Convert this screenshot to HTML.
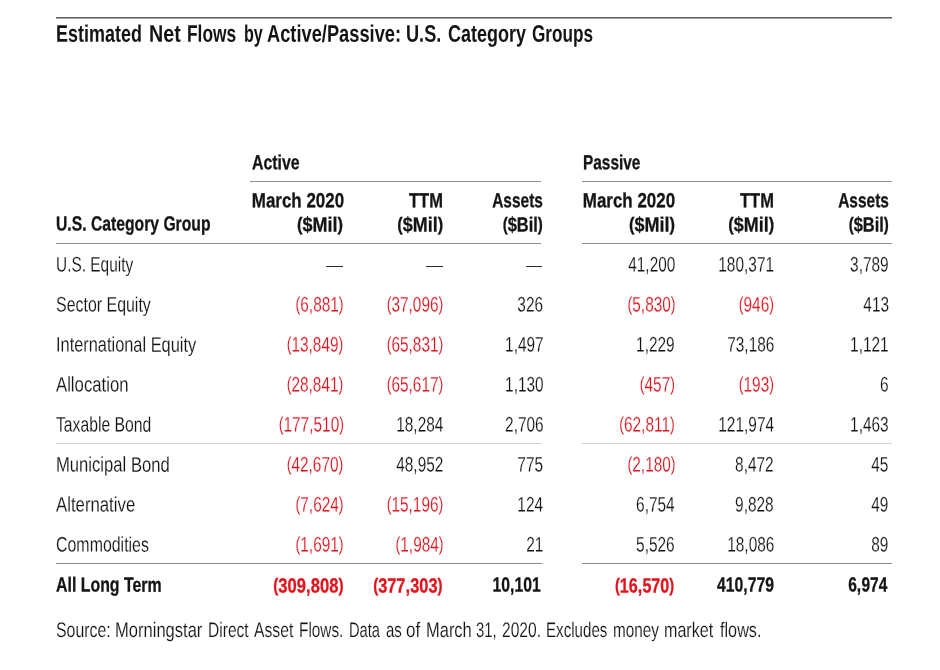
<!DOCTYPE html>
<html lang="en">
<head>
<meta charset="utf-8">
<title>Estimated Net Flows by Active/Passive: U.S. Category Groups</title>
<style>
html,body{margin:0;padding:0;background:#fff;}
body{width:940px;height:670px;position:relative;overflow:hidden;font-family:"Liberation Sans",sans-serif;}
#page{position:absolute;left:0;top:0;width:940px;height:670px;will-change:transform;text-rendering:geometricPrecision;}
.t{position:absolute;white-space:nowrap;font-size:21px;line-height:25px;height:25px;margin:0;padding:0;}
.l{transform-origin:0 50%;}
.r{transform-origin:100% 50%;}
.b{font-weight:bold;font-size:20.4px;-webkit-text-stroke:0.3px currentColor;}
.n{-webkit-text-stroke:0.15px #fff;}
.b.h{font-size:24px;line-height:29px;height:29px;-webkit-text-stroke:0;}
.ln{position:absolute;}
.d{font-size:0;line-height:0;overflow:hidden;color:transparent;}
.p{font-size:19.4px;position:relative;top:-0.75px;}
.b .p{font-size:18.7px;top:-1px;}
.c{letter-spacing:0.1px;}
.b .c{letter-spacing:0.3px;}
</style>
</head>
<body>
<div id="page">
<div class="ln" style="left:56.0px;top:17px;width:835.8px;height:1px;background:#5f5f5f"></div>
<div class="ln" style="left:56.0px;top:18px;width:835.8px;height:1px;background:#a6a6a6"></div>
<div class="ln" style="left:250.4px;top:181px;width:290.4px;height:1px;background:#909090"></div>
<div class="ln" style="left:581.7px;top:181px;width:309.9px;height:1px;background:#909090"></div>
<div class="ln" style="left:56.0px;top:243px;width:484.8px;height:1px;background:#909090"></div>
<div class="ln" style="left:581.7px;top:243px;width:309.9px;height:1px;background:#909090"></div>
<div class="ln" style="left:56.0px;top:443px;width:484.8px;height:1px;background:#cfcfcf"></div>
<div class="ln" style="left:581.7px;top:443px;width:309.9px;height:1px;background:#cfcfcf"></div>
<div class="ln" style="left:56.0px;top:563px;width:484.8px;height:1px;background:#8a8a8a"></div>
<div class="ln" style="left:541.0px;top:563px;width:2.0px;height:1px;background:#b4b4b4"></div>
<div class="ln" style="left:581.7px;top:563px;width:309.9px;height:1px;background:#8a8a8a"></div>
<div class="ln d" style="left:326.3px;top:266px;width:16.7px;height:1px;background:#2b2b2b">&mdash;</div>
<div class="ln d" style="left:426.0px;top:266px;width:16.7px;height:1px;background:#2b2b2b">&mdash;</div>
<div class="ln d" style="left:525.8px;top:266px;width:16.7px;height:1px;background:#2b2b2b">&mdash;</div>
<div class="t l b h" style="left:56.29px;top:19px;color:#141414;transform:matrix(0.7493,0.0008,0,1,0,0.65)">Estimated</div>
<div class="t l b h" style="left:148.59px;top:19px;color:#141414;transform:matrix(0.8201,0.0008,0,1,0,0.65)">Net</div>
<div class="t l b h" style="left:187.40px;top:19px;color:#141414;transform:matrix(0.7241,0.0008,0,1,0,0.65)">Flows</div>
<div class="t l b h" style="left:243.51px;top:19px;color:#141414;transform:matrix(0.6708,0.0008,0,1,0,0.65)">by</div>
<div class="t l b h" style="left:267.09px;top:19px;color:#141414;transform:matrix(0.7614,0.0008,0,1,0,0.65)">Active/Passive:</div>
<div class="t l b h" style="left:406.31px;top:19px;color:#141414;transform:matrix(0.7555,0.0008,0,1,0,0.65)">U.S.</div>
<div class="t l b h" style="left:447.77px;top:19px;color:#141414;transform:matrix(0.7496,0.0008,0,1,0,0.65)">Category</div>
<div class="t l b h" style="left:531.50px;top:19px;color:#141414;transform:matrix(0.7156,0.0008,0,1,0,0.65)">Groups</div>
<div class="t l b" style="left:252.00px;top:151px;color:#141414;transform:matrix(0.7791,0.0008,0,1,0,0.25)">Active</div>
<div class="t l b" style="left:583.00px;top:151px;color:#141414;transform:matrix(0.7548,0.0008,0,1,0,0.25)">Passive</div>
<div class="t l b" style="left:55.80px;top:212px;color:#141414;transform:matrix(0.7705,0.0008,0,1,0,0.45)">U.S. Category Group</div>
<div class="t r b" style="right:596.40px;top:189px;color:#141414;transform:matrix(0.8310,0.0008,0,1,0,0.30)">March 2020</div>
<div class="t r b" style="right:596.40px;top:212px;color:#141414;transform:matrix(0.8832,0.0008,0,1,0,0.45)"><span class="p">(</span>$Mil<span class="p">)</span></div>
<div class="t r b" style="right:497.00px;top:189px;color:#141414;transform:matrix(0.8098,0.0008,0,1,0,0.30)">TTM</div>
<div class="t r b" style="right:497.00px;top:212px;color:#141414;transform:matrix(0.8783,0.0008,0,1,0,0.45)"><span class="p">(</span>$Mil<span class="p">)</span></div>
<div class="t r b" style="right:396.90px;top:189px;color:#141414;transform:matrix(0.7585,0.0008,0,1,0,0.30)">Assets</div>
<div class="t r b" style="right:396.90px;top:212px;color:#141414;transform:matrix(0.8053,0.0008,0,1,0,0.45)"><span class="p">(</span>$Bil<span class="p">)</span></div>
<div class="t r b" style="right:265.20px;top:189px;color:#141414;transform:matrix(0.8310,0.0008,0,1,0,0.30)">March 2020</div>
<div class="t r b" style="right:265.20px;top:212px;color:#141414;transform:matrix(0.8832,0.0008,0,1,0,0.45)"><span class="p">(</span>$Mil<span class="p">)</span></div>
<div class="t r b" style="right:166.30px;top:189px;color:#141414;transform:matrix(0.8098,0.0008,0,1,0,0.30)">TTM</div>
<div class="t r b" style="right:166.30px;top:212px;color:#141414;transform:matrix(0.8783,0.0008,0,1,0,0.45)"><span class="p">(</span>$Mil<span class="p">)</span></div>
<div class="t r b" style="right:51.50px;top:189px;color:#141414;transform:matrix(0.7585,0.0008,0,1,0,0.30)">Assets</div>
<div class="t r b" style="right:51.50px;top:212px;color:#141414;transform:matrix(0.8053,0.0008,0,1,0,0.45)"><span class="p">(</span>$Bil<span class="p">)</span></div>
<div class="t l n" style="left:56.00px;top:252px;color:#141414;transform:matrix(0.7345,0.0008,0,1,0,0.55)">U.S. Equity</div>
<div class="t r n" style="right:264.90px;top:252px;color:#141414;transform:matrix(0.7330,0.0008,0,1,0,0.55)">41<span class="c">,</span>200</div>
<div class="t r n" style="right:166.00px;top:252px;color:#141414;transform:matrix(0.7330,0.0008,0,1,0,0.55)">180<span class="c">,</span>371</div>
<div class="t r n" style="right:51.20px;top:252px;color:#141414;transform:matrix(0.7330,0.0008,0,1,0,0.55)">3<span class="c">,</span>789</div>
<div class="t l n" style="left:56.00px;top:292px;color:#141414;transform:matrix(0.7590,0.0008,0,1,0,0.55)">Sector Equity</div>
<div class="t r n" style="right:596.30px;top:292px;color:#e2131c;transform:matrix(0.7330,0.0008,0,1,0,0.55)"><span class="p">(</span>6<span class="c">,</span>881<span class="p">)</span></div>
<div class="t r n" style="right:496.60px;top:292px;color:#e2131c;transform:matrix(0.7330,0.0008,0,1,0,0.55)"><span class="p">(</span>37<span class="c">,</span>096<span class="p">)</span></div>
<div class="t r n" style="right:396.80px;top:292px;color:#141414;transform:matrix(0.7330,0.0008,0,1,0,0.55)">326</div>
<div class="t r n" style="right:264.90px;top:292px;color:#e2131c;transform:matrix(0.7330,0.0008,0,1,0,0.55)"><span class="p">(</span>5<span class="c">,</span>830<span class="p">)</span></div>
<div class="t r n" style="right:166.00px;top:292px;color:#e2131c;transform:matrix(0.7330,0.0008,0,1,0,0.55)"><span class="p">(</span>946<span class="p">)</span></div>
<div class="t r n" style="right:51.20px;top:292px;color:#141414;transform:matrix(0.7330,0.0008,0,1,0,0.55)">413</div>
<div class="t l n" style="left:56.00px;top:332px;color:#141414;transform:matrix(0.7796,0.0008,0,1,0,0.55)">International Equity</div>
<div class="t r n" style="right:596.30px;top:332px;color:#e2131c;transform:matrix(0.7330,0.0008,0,1,0,0.55)"><span class="p">(</span>13<span class="c">,</span>849<span class="p">)</span></div>
<div class="t r n" style="right:496.60px;top:332px;color:#e2131c;transform:matrix(0.7330,0.0008,0,1,0,0.55)"><span class="p">(</span>65<span class="c">,</span>831<span class="p">)</span></div>
<div class="t r n" style="right:396.80px;top:332px;color:#141414;transform:matrix(0.7330,0.0008,0,1,0,0.55)">1<span class="c">,</span>497</div>
<div class="t r n" style="right:264.90px;top:332px;color:#141414;transform:matrix(0.7330,0.0008,0,1,0,0.55)">1<span class="c">,</span>229</div>
<div class="t r n" style="right:166.00px;top:332px;color:#141414;transform:matrix(0.7330,0.0008,0,1,0,0.55)">73<span class="c">,</span>186</div>
<div class="t r n" style="right:51.20px;top:332px;color:#141414;transform:matrix(0.7330,0.0008,0,1,0,0.55)">1<span class="c">,</span>121</div>
<div class="t l n" style="left:56.00px;top:372px;color:#141414;transform:matrix(0.7962,0.0008,0,1,0,0.55)">Allocation</div>
<div class="t r n" style="right:596.30px;top:372px;color:#e2131c;transform:matrix(0.7330,0.0008,0,1,0,0.55)"><span class="p">(</span>28<span class="c">,</span>841<span class="p">)</span></div>
<div class="t r n" style="right:496.60px;top:372px;color:#e2131c;transform:matrix(0.7330,0.0008,0,1,0,0.55)"><span class="p">(</span>65<span class="c">,</span>617<span class="p">)</span></div>
<div class="t r n" style="right:396.80px;top:372px;color:#141414;transform:matrix(0.7330,0.0008,0,1,0,0.55)">1<span class="c">,</span>130</div>
<div class="t r n" style="right:264.90px;top:372px;color:#e2131c;transform:matrix(0.7330,0.0008,0,1,0,0.55)"><span class="p">(</span>457<span class="p">)</span></div>
<div class="t r n" style="right:166.00px;top:372px;color:#e2131c;transform:matrix(0.7330,0.0008,0,1,0,0.55)"><span class="p">(</span>193<span class="p">)</span></div>
<div class="t r n" style="right:51.20px;top:372px;color:#141414;transform:matrix(0.7330,0.0008,0,1,0,0.55)">6</div>
<div class="t l n" style="left:56.00px;top:412px;color:#141414;transform:matrix(0.7493,0.0008,0,1,0,0.55)">Taxable Bond</div>
<div class="t r n" style="right:596.30px;top:412px;color:#e2131c;transform:matrix(0.7330,0.0008,0,1,0,0.55)"><span class="p">(</span>177<span class="c">,</span>510<span class="p">)</span></div>
<div class="t r n" style="right:496.60px;top:412px;color:#141414;transform:matrix(0.7330,0.0008,0,1,0,0.55)">18<span class="c">,</span>284</div>
<div class="t r n" style="right:396.80px;top:412px;color:#141414;transform:matrix(0.7330,0.0008,0,1,0,0.55)">2<span class="c">,</span>706</div>
<div class="t r n" style="right:264.90px;top:412px;color:#e2131c;transform:matrix(0.7330,0.0008,0,1,0,0.55)"><span class="p">(</span>62<span class="c">,</span>811<span class="p">)</span></div>
<div class="t r n" style="right:166.00px;top:412px;color:#141414;transform:matrix(0.7330,0.0008,0,1,0,0.55)">121<span class="c">,</span>974</div>
<div class="t r n" style="right:51.20px;top:412px;color:#141414;transform:matrix(0.7330,0.0008,0,1,0,0.55)">1<span class="c">,</span>463</div>
<div class="t l n" style="left:56.00px;top:452px;color:#141414;transform:matrix(0.7921,0.0008,0,1,0,0.55)">Municipal Bond</div>
<div class="t r n" style="right:596.30px;top:452px;color:#e2131c;transform:matrix(0.7330,0.0008,0,1,0,0.55)"><span class="p">(</span>42<span class="c">,</span>670<span class="p">)</span></div>
<div class="t r n" style="right:496.60px;top:452px;color:#141414;transform:matrix(0.7330,0.0008,0,1,0,0.55)">48<span class="c">,</span>952</div>
<div class="t r n" style="right:396.80px;top:452px;color:#141414;transform:matrix(0.7330,0.0008,0,1,0,0.55)">775</div>
<div class="t r n" style="right:264.90px;top:452px;color:#e2131c;transform:matrix(0.7330,0.0008,0,1,0,0.55)"><span class="p">(</span>2<span class="c">,</span>180<span class="p">)</span></div>
<div class="t r n" style="right:166.00px;top:452px;color:#141414;transform:matrix(0.7330,0.0008,0,1,0,0.55)">8<span class="c">,</span>472</div>
<div class="t r n" style="right:51.20px;top:452px;color:#141414;transform:matrix(0.7330,0.0008,0,1,0,0.55)">45</div>
<div class="t l n" style="left:56.00px;top:492px;color:#141414;transform:matrix(0.7983,0.0008,0,1,0,0.55)">Alternative</div>
<div class="t r n" style="right:596.30px;top:492px;color:#e2131c;transform:matrix(0.7330,0.0008,0,1,0,0.55)"><span class="p">(</span>7<span class="c">,</span>624<span class="p">)</span></div>
<div class="t r n" style="right:496.60px;top:492px;color:#e2131c;transform:matrix(0.7330,0.0008,0,1,0,0.55)"><span class="p">(</span>15<span class="c">,</span>196<span class="p">)</span></div>
<div class="t r n" style="right:396.80px;top:492px;color:#141414;transform:matrix(0.7330,0.0008,0,1,0,0.55)">124</div>
<div class="t r n" style="right:264.90px;top:492px;color:#141414;transform:matrix(0.7330,0.0008,0,1,0,0.55)">6<span class="c">,</span>754</div>
<div class="t r n" style="right:166.00px;top:492px;color:#141414;transform:matrix(0.7330,0.0008,0,1,0,0.55)">9<span class="c">,</span>828</div>
<div class="t r n" style="right:51.20px;top:492px;color:#141414;transform:matrix(0.7330,0.0008,0,1,0,0.55)">49</div>
<div class="t l n" style="left:56.00px;top:532px;color:#141414;transform:matrix(0.7584,0.0008,0,1,0,0.55)">Commodities</div>
<div class="t r n" style="right:596.30px;top:532px;color:#e2131c;transform:matrix(0.7330,0.0008,0,1,0,0.55)"><span class="p">(</span>1<span class="c">,</span>691<span class="p">)</span></div>
<div class="t r n" style="right:496.60px;top:532px;color:#e2131c;transform:matrix(0.7330,0.0008,0,1,0,0.55)"><span class="p">(</span>1<span class="c">,</span>984<span class="p">)</span></div>
<div class="t r n" style="right:396.80px;top:532px;color:#141414;transform:matrix(0.7330,0.0008,0,1,0,0.55)">21</div>
<div class="t r n" style="right:264.90px;top:532px;color:#141414;transform:matrix(0.7330,0.0008,0,1,0,0.55)">5<span class="c">,</span>526</div>
<div class="t r n" style="right:166.00px;top:532px;color:#141414;transform:matrix(0.7330,0.0008,0,1,0,0.55)">18<span class="c">,</span>086</div>
<div class="t r n" style="right:51.20px;top:532px;color:#141414;transform:matrix(0.7330,0.0008,0,1,0,0.55)">89</div>
<div class="t l b" style="left:55.60px;top:573px;color:#141414;transform:matrix(0.7794,0.0008,0,1,0,0.55)">All Long Term</div>
<div class="t r b" style="right:597.00px;top:573px;color:#e2131c;transform:matrix(0.8135,0.0008,0,1,0,0.55)"><span class="p">(</span>309<span class="c">,</span>808<span class="p">)</span></div>
<div class="t r b" style="right:497.20px;top:573px;color:#e2131c;transform:matrix(0.8018,0.0008,0,1,0,0.55)"><span class="p">(</span>377<span class="c">,</span>303<span class="p">)</span></div>
<div class="t r b" style="right:399.12px;top:573px;color:#141414;transform:matrix(0.7702,0.0008,0,1,0,0.55)">10<span class="c">,</span>101</div>
<div class="t r b" style="right:266.10px;top:573px;color:#e2131c;transform:matrix(0.7879,0.0008,0,1,0,0.55)"><span class="p">(</span>16<span class="c">,</span>570<span class="p">)</span></div>
<div class="t r b" style="right:165.61px;top:573px;color:#141414;transform:matrix(0.7720,0.0008,0,1,0,0.55)">410<span class="c">,</span>779</div>
<div class="t r b" style="right:53.10px;top:573px;color:#141414;transform:matrix(0.7622,0.0008,0,1,0,0.55)">6<span class="c">,</span>974</div>
<div class="t l n" style="left:56.01px;top:618px;color:#141414;transform:scaleX(0.7560)">Source:</div>
<div class="t l n" style="left:114.90px;top:618px;color:#141414;transform:scaleX(0.7880)">Morningstar</div>
<div class="t l n" style="left:207.81px;top:618px;color:#141414;transform:scaleX(0.7410)">Direct</div>
<div class="t l n" style="left:254.00px;top:618px;color:#141414;transform:scaleX(0.7483)">Asset</div>
<div class="t l n" style="left:299.00px;top:618px;color:#141414;transform:scaleX(0.7315)">Flows.</div>
<div class="t l n" style="left:348.80px;top:618px;color:#141414;transform:scaleX(0.6988)">Data</div>
<div class="t l n" style="left:386.12px;top:618px;color:#141414;transform:scaleX(0.7140)">as</div>
<div class="t l n" style="left:406.47px;top:618px;color:#141414;transform:scaleX(0.8075)">of</div>
<div class="t l n" style="left:425.70px;top:618px;color:#141414;transform:scaleX(0.7844)">March</div>
<div class="t l n" style="left:476.28px;top:618px;color:#141414;transform:scaleX(0.7066)">31,</div>
<div class="t l n" style="left:502.21px;top:618px;color:#141414;transform:scaleX(0.7432)">2020.</div>
<div class="t l n" style="left:545.90px;top:618px;color:#141414;transform:scaleX(0.7202)">Excludes</div>
<div class="t l n" style="left:612.70px;top:618px;color:#141414;transform:scaleX(0.7272)">money</div>
<div class="t l n" style="left:664.41px;top:618px;color:#141414;transform:scaleX(0.7657)">market</div>
<div class="t l n" style="left:720.30px;top:618px;color:#141414;transform:scaleX(0.7725)">flows.</div>
</div>
</body>
</html>
